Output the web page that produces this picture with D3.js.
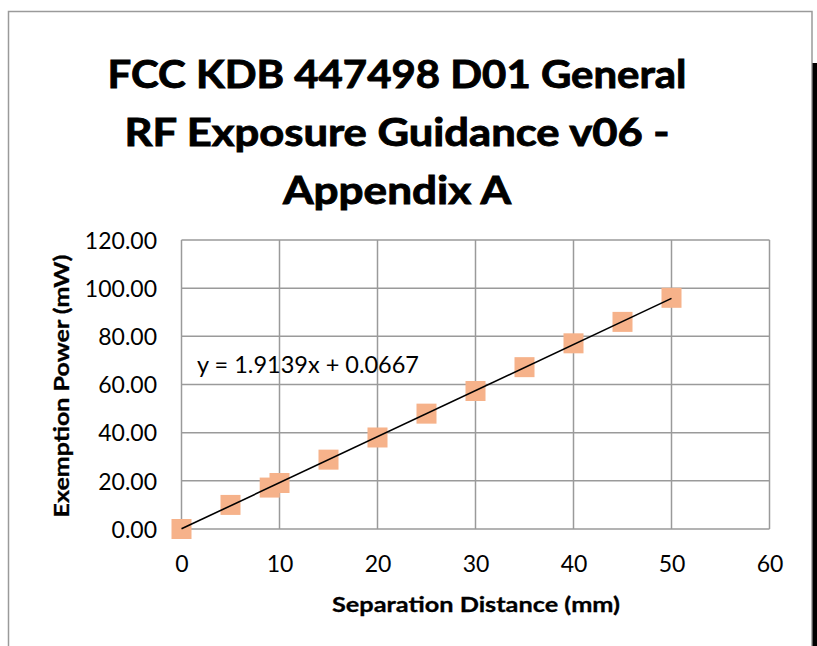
<!DOCTYPE html>
<html><head><meta charset="utf-8">
<script src="https://cdn.jsdelivr.net/npm/d3@7"></script>
<style>body{margin:0;background:#fff;}svg{display:block;}</style>
</head><body>
<svg id="c" width="817" height="646"></svg>
<script>
const titleLines = ["FCC KDB 447498 D01 General", "RF Exposure Guidance v06 -", "Appendix A"];
const distances = [0, 5, 9, 10, 15, 20, 25, 30, 35, 40, 45, 50];
const power = [0, 10.0, 17.2, 19.1, 28.8, 38.0, 47.9, 57.3, 67.2, 77.1, 86.0, 96.0];
const xTicks = [0, 10, 20, 30, 40, 50, 60];
const yTicks = [0, 20, 40, 60, 80, 100, 120];
const slope = 1.9139, intercept = 0.0667;
const trendRange = [0, 50];
const xLabel = "Separation Distance (mm)";
const yLabel = "Exemption Power (mW)";
const eqLabel = "y = 1.9139x + 0.0667";

const svg = d3.select("#c");
const F = "Lato, 'Open Sans', sans-serif";

// outer chart border
svg.append("rect").attr("x", 8.5).attr("y", 11.5).attr("width", 803.5).attr("height", 700)
  .attr("fill", "#fff").attr("stroke", "#9a9a9a").attr("stroke-width", 1.5);
svg.append("rect").attr("x", 812.5).attr("y", 63).attr("width", 5).attr("height", 600).attr("fill", "#000");

const x = d3.scaleLinear().domain([0, 60]).range([181.5, 769.5]);
const y = d3.scaleLinear().domain([0, 120]).range([529, 240]);

// gridlines
const g = svg.append("g");
g.selectAll(".gx").data(xTicks).join("line")
  .attr("x1", d => x(d)).attr("x2", d => x(d)).attr("y1", y(0)).attr("y2", y(120))
  .attr("stroke", "#9a9a9a").attr("stroke-width", 1.5);
g.selectAll(".gy").data(yTicks).join("line")
  .attr("y1", d => y(d)).attr("y2", d => y(d)).attr("x1", x(0)).attr("x2", x(60))
  .attr("stroke", "#9a9a9a").attr("stroke-width", 1.5);

// axes labels via d3 axes
const xAxis = svg.append("g").attr("transform", `translate(0,${y(0)})`)
  .call(d3.axisBottom(x).tickValues(xTicks).tickSize(0).tickPadding(0).tickFormat(d3.format("d")));
xAxis.select(".domain").remove();
xAxis.selectAll("text").attr("font-family", F).attr("font-size", 23).attr("fill", "#000")
  .attr("dy", null).attr("y", 43);

const yAxis = svg.append("g").attr("transform", `translate(157,0)`)
  .call(d3.axisLeft(y).tickValues(yTicks).tickSize(0).tickPadding(0).tickFormat(d3.format(".2f")));
yAxis.select(".domain").remove();
yAxis.selectAll("text").attr("font-family", F).attr("font-size", 23).attr("fill", "#000")
  .attr("dy", "0.36em");

// markers
svg.append("g").selectAll("rect").data(distances.map((d, i) => [d, power[i]])).join("rect")
  .attr("x", d => x(d[0]) - 10).attr("y", d => y(d[1]) - 10)
  .attr("width", 20).attr("height", 20).attr("fill", "#F6B28A");

// trendline
svg.append("line")
  .attr("x1", x(trendRange[0])).attr("y1", y(slope * trendRange[0] + intercept))
  .attr("x2", x(trendRange[1])).attr("y2", y(slope * trendRange[1] + intercept))
  .attr("stroke", "#000").attr("stroke-width", 1.6);

// equation
svg.append("text").attr("x", 197).attr("y", 373).attr("font-family", F).attr("font-size", 23)
  .attr("textLength", 222).attr("lengthAdjust", "spacingAndGlyphs").text(eqLabel);

// title
const tW = [579, 545, 228];
const tB = [88, 146, 204];
titleLines.forEach((t, i) => {
  svg.append("text").attr("x", 397).attr("y", tB[i]).attr("text-anchor", "middle")
    .attr("font-family", F).attr("font-weight", "bold").attr("font-size", 39)
    .attr("stroke", "#000").attr("stroke-width", 0.9)
    .attr("textLength", tW[i]).attr("lengthAdjust", "spacingAndGlyphs").text(t);
});

// axis titles
svg.append("text").attr("x", 476).attr("y", 612).attr("text-anchor", "middle")
  .attr("font-family", F).attr("font-weight", "bold").attr("font-size", 21)
  .attr("stroke", "#000").attr("stroke-width", 0.3)
  .attr("textLength", 288).attr("lengthAdjust", "spacingAndGlyphs").text(xLabel);
svg.append("text").attr("transform", "translate(69,386) rotate(-90)").attr("text-anchor", "middle")
  .attr("font-family", F).attr("font-weight", "bold").attr("font-size", 21)
  .attr("stroke", "#000").attr("stroke-width", 0.3)
  .attr("textLength", 263).attr("lengthAdjust", "spacingAndGlyphs").text(yLabel);
</script>
</body></html>
